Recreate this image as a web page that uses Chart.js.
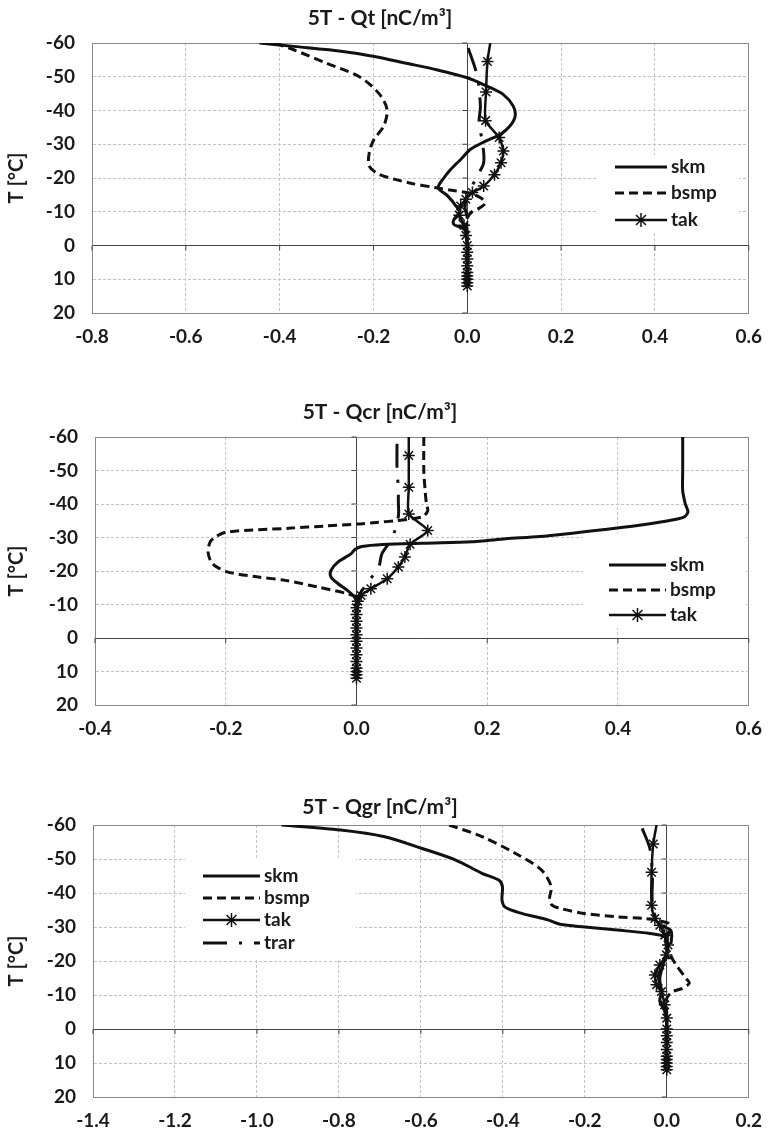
<!DOCTYPE html>
<html>
<head>
<meta charset="utf-8">
<script src="https://cdn.jsdelivr.net/npm/chart.js@4.4.1/dist/chart.umd.min.js"></script>
<style>
html, body { margin: 0; padding: 0; background: #fff; }
#page { position: relative; width: 774px; height: 1135px; }
canvas { position: absolute; left: 0; }
</style>
</head>
<body>
<div id="page">
	<canvas id="c1" width="774" height="362" style="top:0px"></canvas>
	<canvas id="c2" width="774" height="365" style="top:385px"></canvas>
	<canvas id="c3" width="774" height="360" style="top:775px"></canvas>
</div>
<script>
// --- Qt panel ---
const skmT1 = [-60, -59, -57.5, -56, -54, -52, -49.7, -47.2, -44.7, -41.3, -38.3, -35.4, -32.9, -30.9, -28.5, -25.5, -22.6, -20, -17.1, -14.7, -11.7, -9.8, -7.8, -6.3, -5.5, -4.5, 0, 6, 12]
const skmQ1 = [-0.443, -0.37, -0.265, -0.198, -0.13, -0.063, 0, 0.042, 0.077, 0.098, 0.102, 0.091, 0.07, 0.039, 0.007, -0.014, -0.035, -0.05, -0.062, -0.042, -0.024, -0.017, -0.028, -0.029, -0.017, -0.003, 0, 0, 0]
const bsmpT1 = [-60, -58, -54, -50, -45, -40.3, -35.4, -31.4, -27.5, -23.5, -21.1, -18.6, -17.1, -16.3, -15.5, -14, -12.5, -11, -10, -8, 0, 6, 12]
const bsmpQ1 = [-0.41, -0.37, -0.3, -0.23, -0.188, -0.171, -0.178, -0.199, -0.209, -0.209, -0.188, -0.125, -0.066, -0.03, 0.005, 0.03, 0.038, 0.025, 0.01, 0, 0, 0, 0]
const takT1 = [-60, -54.5, -45.5, -37, -32, -28, -24.5, -21, -17.6, -15.7, -13.7, -11.7, -9, -6, -3, 0, 2, 4, 6, 8, 9, 10, 11, 12]
const takQ1 = [0.049, 0.043, 0.04, 0.039, 0.068, 0.077, 0.072, 0.058, 0.035, 0.011, -0.003, -0.014, -0.017, -0.007, -0.003, 0, 0, 0, 0, 0, 0, 0, 0, 0]
const trarT1 = [-58.5, -50.5, -45, -41, -36, -31, -24.5, -20.6, -16, -12, -8, 0, 12]
const trarQ1 = [0.002, 0.021, 0.026, 0.028, 0.025, 0.032, 0.035, 0.021, 0.005, -0.005, 0, 0, 0]

// --- Qcr panel ---
const skmT2 = [-60, -50, -44, -40, -37.6, -36, -34.8, -33.6, -32.4, -31.3, -30.3, -29.6, -29.1, -28.7, -28.3, -27.9, -27.3, -26.5, -25.2, -22.7, -20.2, -18.2, -16.2, -14.2, -12.2, -10.5, -6, 0, 6, 12]
const skmQ2 = [0.499, 0.499, 0.499, 0.503, 0.507, 0.5, 0.47, 0.43, 0.38, 0.33, 0.28, 0.228, 0.2, 0.177, 0.1, 0.04, 0.008, -0.002, -0.008, -0.028, -0.039, -0.039, -0.028, -0.014, -0.003, 0, 0, 0, 0, 0]
const bsmpT2 = [-60, -50, -44, -40, -38, -36.3, -35.6, -35, -34.5, -34, -33.4, -32.8, -31.6, -30, -28.6, -25.6, -22.6, -21, -19.6, -18.2, -17.2, -15.2, -13.2, -12, -6, 0, 6, 12]
const bsmpQ2 = [0.103, 0.103, 0.105, 0.107, 0.109, 0.102, 0.085, 0.06, 0.03, 0, -0.05, -0.1, -0.2, -0.217, -0.224, -0.227, -0.222, -0.212, -0.195, -0.15, -0.109, -0.059, -0.014, 0, 0, 0, 0, 0]
const takT2 = [-60, -54.5, -45, -37, -32.1, -28, -24.2, -21.2, -17.7, -14.7, -12.7, -11, -9, -7, -5, -3, -1, 1, 3, 5, 7, 9, 10, 11, 12]
const takQ2 = [0.08, 0.08, 0.08, 0.08, 0.109, 0.082, 0.074, 0.064, 0.047, 0.022, 0.007, 0.002, 0, 0, 0, 0, 0, 0, 0, 0, 0, 0, 0, 0, 0]
const trarT2 = [-58, -50.5, -44.6, -41.1, -36.3, -29.6, -25.2, -21.2, -16, -12, -8, 0, 12]
const trarQ2 = [0.062, 0.062, 0.064, 0.064, 0.064, 0.054, 0.039, 0.034, 0.015, 0.002, 0, 0, 0]

// --- Qgr panel ---
const skmT3 = [-60, -58.5, -56.6, -53.1, -49.7, -45.8, -43.8, -41.9, -37.9, -35.8, -34, -32.1, -30.8, -30, -29.1, -28.1, -27.1, -25, -22.7, -18.8, -14.9, -11, -8.1, -5.2, -1.3, 6, 12]
const skmQ3 = [-0.94, -0.796, -0.691, -0.597, -0.515, -0.451, -0.41, -0.401, -0.402, -0.394, -0.354, -0.29, -0.26, -0.2, -0.121, -0.041, -0.005, -0.002, 0, -0.009, -0.017, -0.013, -0.017, -0.005, 0, 0, 0]
const bsmpT3 = [-60, -56.6, -51.7, -46.8, -41.9, -38.4, -36.4, -35.4, -34, -33, -32.5, -32, -31, -29.6, -27, -24.7, -21.5, -18.8, -14.9, -13.5, -12, -11, -9, -4, 0, 6, 12]
const bsmpQ3 = [-0.531, -0.451, -0.37, -0.306, -0.282, -0.286, -0.28, -0.258, -0.202, -0.121, -0.057, -0.025, 0.005, 0.007, 0.002, 0, 0.01, 0.023, 0.047, 0.055, 0.039, 0.015, 0, 0, 0, 0, 0]
const takT3 = [-60, -54.4, -46.1, -36.4, -32.5, -30.5, -27.6, -24.7, -21.8, -18.8, -15.9, -13, -11, -7.1, -3.2, 0, 2, 4, 6, 8, 9, 10, 11, 12]
const takQ3 = [-0.025, -0.033, -0.037, -0.037, -0.029, -0.017, -0.005, 0.003, -0.001, -0.017, -0.029, -0.025, -0.013, -0.005, 0, 0, 0, 0, 0, 0, 0, 0, 0, 0]
const trarT3 = [-59, -53, -45, -37, -31, -29, -25, -20, -16, -10, -5, 0, 12]
const trarQ3 = [-0.06, -0.041, -0.035, -0.035, -0.02, 0.01, 0.01, 0, -0.02, -0.01, 0, 0, 0]

const tempTicks = { min: -60, max: 20, step: 10 }

Chart.defaults.font.family = 'Lato, "Open Sans", sans-serif'
const ink = '#111'
const textInk = '#1a1a1a'

const pairUp = (qs, ts) => qs.map((q, i) => ({ x: q, y: ts[i] }))

// белый прямоугольник с легендой поверх сетки
const boxLegend = {
	id: 'boxLegend',
	beforeDatasetsDraw(chart, args, opts) {
		const ctx = chart.ctx
		ctx.save()
		ctx.fillStyle = '#fff'
		ctx.fillRect(opts.box[0], opts.box[1], opts.box[2], opts.box[3])
		opts.labels.forEach((name, i) => {
			const ds = chart.data.datasets.find(d => d.label === name)
			const y = opts.rows[i]
			ctx.strokeStyle = ink
			ctx.lineWidth = ds.borderWidth
			ctx.setLineDash(ds.borderDash || [])
			ctx.beginPath()
			ctx.moveTo(opts.x, y)
			ctx.lineTo(opts.x + opts.len, y)
			ctx.stroke()
			ctx.setLineDash([])
			if (ds.pointStyle) {
				ctx.lineWidth = 1.5
				Chart.helpers.drawPoint(ctx, { pointStyle: ds.pointStyle, radius: 7, borderWidth: 1.5, rotation: 0 }, opts.x + opts.len / 2, y)
			}
			ctx.fillStyle = textInk
			ctx.font = 'bold 19px Lato'
			ctx.textBaseline = 'middle'
			ctx.fillText(name, opts.x + opts.len + 4, y)
		})
		ctx.restore()
	},
}

// короткие засечки на осях x=0 и T=0
const zeroTicks = {
	id: 'zeroTicks',
	beforeDatasetsDraw(chart) {
		const { ctx, scales: { x, y } } = chart
		const x0 = x.getPixelForValue(0)
		const y0 = y.getPixelForValue(0)
		ctx.save()
		ctx.strokeStyle = '#444'
		ctx.lineWidth = 1
		ctx.beginPath()
		y.ticks.forEach(t => {
			const py = y.getPixelForValue(t.value)
			ctx.moveTo(x0 - 5, py)
			ctx.lineTo(x0, py)
		})
		x.ticks.forEach(t => {
			const px = x.getPixelForValue(t.value)
			ctx.moveTo(px, y0)
			ctx.lineTo(px, y0 + 5)
		})
		ctx.stroke()
		ctx.restore()
	},
}

function makeSets(skm, bsmp, tak, trar) {
	return [
		{ label: 'skm', data: skm, showLine: true, borderColor: ink, borderWidth: 3, pointRadius: 0, tension: 0.3 },
		{ label: 'bsmp', data: bsmp, showLine: true, borderColor: ink, borderWidth: 3, borderDash: [9, 5], pointRadius: 0, tension: 0.3 },
		{
			label: 'tak', data: tak, showLine: true, borderColor: ink, borderWidth: 2.5, tension: 0.2,
			pointStyle: 'star', pointRadius: c => (c.dataIndex === 0 ? 0 : 6),
			pointBorderColor: ink, pointBackgroundColor: ink, pointBorderWidth: 1.5,
		},
		{ label: 'trar', data: trar, showLine: true, borderColor: ink, borderWidth: 3, borderDash: [24, 12, 3, 12], pointRadius: 0, tension: 0.3 },
	]
}

function gridColor(min, max) {
	return c => {
		if (!c.tick) return '#888'
		const v = c.tick.value
		if (Math.abs(v) < 1e-9) return '#444'
		if (Math.abs(v - min) < 1e-9 || Math.abs(v - max) < 1e-9) return '#888'
		return '#c4c4c4'
	}
}
function gridDash(min, max) {
	return c => {
		if (!c.tick) return []
		const v = c.tick.value
		if (Math.abs(v) < 1e-9 || Math.abs(v - min) < 1e-9 || Math.abs(v - max) < 1e-9) return []
		return [3, 2]
	}
}

function makePanel(id, p) {
	const canvas = document.getElementById(id)
	const H = canvas.height
	const tickFont = { size: 19, weight: 'bold' }
	const titleSize = 21
	new Chart(canvas.getContext('2d'), {
		type: 'scatter',
		data: { datasets: makeSets(p.skm, p.bsmp, p.tak, p.trar) },
		plugins: [zeroTicks, boxLegend],
		options: {
			responsive: false,
			animation: false,
			devicePixelRatio: 1,
			layout: { padding: { left: 0, right: 774 - p.right, top: 0, bottom: 0 } },
			scales: {
				x: {
					type: 'linear',
					min: p.xMin,
					max: p.xMax,
					ticks: {
						stepSize: 0.2,
						padding: 12,
						color: textInk,
						font: tickFont,
						callback: v => (Math.abs(v) < 1e-9 ? '0.0' : Number(v).toFixed(1)),
					},
					grid: { color: gridColor(p.xMin, p.xMax), lineWidth: 1, drawTicks: false },
					border: { display: true, color: '#888', width: 1, dash: gridDash(p.xMin, p.xMax) },
					afterFit: s => { s.height = H - p.bottom },
				},
				y: {
					type: 'linear',
					reverse: true,
					min: tempTicks.min,
					max: tempTicks.max,
					ticks: { stepSize: tempTicks.step, padding: 17, color: textInk, font: tickFont },
					title: {
						display: true,
						text: 'T [°C]',
						color: textInk,
						font: { size: 20, weight: 'bold' },
						padding: { top: 5, bottom: 0 },
					},
					grid: { color: gridColor(tempTicks.min, tempTicks.max), lineWidth: 1, drawTicks: false },
					border: { display: true, color: '#888', width: 1, dash: gridDash(tempTicks.min, tempTicks.max) },
					afterFit: s => { s.width = p.left },
				},
			},
			plugins: {
				legend: { display: false },
				tooltip: { enabled: false },
				title: {
					display: true,
					text: p.title,
					color: textInk,
					font: { size: titleSize, weight: 'bold' },
					padding: { top: p.titleC - titleSize * 0.6, bottom: p.top - p.titleC - titleSize * 0.6 },
				},
				boxLegend: p.legend,
			},
		},
	})
}

makePanel('c1', {
	title: '5T - Qt [nC/m³]', xMin: -0.8, xMax: 0.6,
	left: 92, right: 760, top: 43, bottom: 313, titleC: 18,
	skm: pairUp(skmQ1, skmT1), bsmp: pairUp(bsmpQ1, bsmpT1), tak: pairUp(takQ1, takT1), trar: pairUp(trarQ1, trarT1),
	legend: { box: [598, 155, 141, 78], x: 615, len: 52, rows: [167, 193, 220], labels: ['skm', 'bsmp', 'tak'] },
})
makePanel('c2', {
	title: '5T - Qcr [nC/m³]', xMin: -0.4, xMax: 0.6,
	left: 95, right: 760, top: 52, bottom: 320, titleC: 27,
	skm: pairUp(skmQ2, skmT2), bsmp: pairUp(bsmpQ2, bsmpT2), tak: pairUp(takQ2, takT2), trar: pairUp(trarQ2, trarT2),
	legend: { box: [583, 148, 162, 95], x: 609, len: 57, rows: [180, 205, 230], labels: ['skm', 'bsmp', 'tak'] },
})
makePanel('c3', {
	title: '5T - Qgr [nC/m³]', xMin: -1.4, xMax: 0.2,
	left: 93, right: 760, top: 50, bottom: 322, titleC: 32,
	skm: pairUp(skmQ3, skmT3), bsmp: pairUp(bsmpQ3, bsmpT3), tak: pairUp(takQ3, takT3), trar: pairUp(trarQ3, trarT3),
	legend: { box: [185, 83, 171, 102], x: 203, len: 57, rows: [101, 123, 145, 168], labels: ['skm', 'bsmp', 'tak', 'trar'] },
})
</script>
</body>
</html>
